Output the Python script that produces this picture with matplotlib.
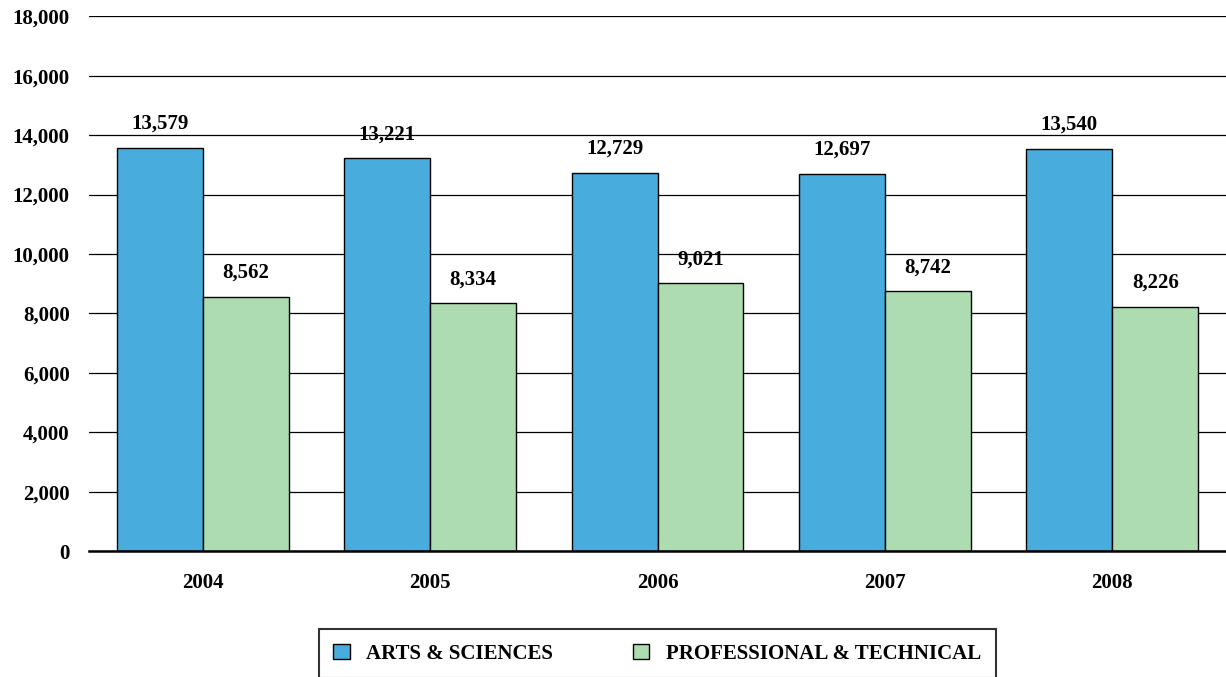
import numpy as np
import matplotlib.pyplot as plt

years = ['2004', '2005', '2006', '2007', '2008']
arts = [13579, 13221, 12729, 12697, 13540]
prof = [8562, 8334, 9021, 8742, 8226]

plt.rcParams['font.family'] = ['Liberation Serif', 'DejaVu Serif']
plt.rcParams['font.weight'] = 'bold'

fig = plt.figure(figsize=(12.26, 6.77), dpi=100)
ax = fig.add_axes([0.0726, 0.186, 0.9274, 0.790])

x = np.arange(len(years))
w = 0.378
b1 = ax.bar(x - w/2, arts, w, color='#48acdc', edgecolor='black', linewidth=1, label='ARTS & SCIENCES', zorder=3)
b2 = ax.bar(x + w/2, prof, w, color='#acdcb0', edgecolor='black', linewidth=1, label='PROFESSIONAL & TECHNICAL', zorder=3)

# value labels above bars
for bars in (b1, b2):
    for r in bars:
        ax.annotate(f'{int(r.get_height()):,}', (r.get_x() + r.get_width()/2, r.get_height()),
                    xytext=(0, 10), textcoords='offset points', ha='center', va='bottom',
                    fontsize=15, fontweight='bold')

ax.set_xlim(-0.5, len(years) - 0.5)
ax.set_ylim(0, 18000)
ax.set_yticks(range(0, 18001, 2000))
ax.set_yticklabels([f'{v:,}' for v in range(0, 18001, 2000)], fontsize=15, fontweight='bold')
ax.set_xticks(x)
ax.set_xticklabels(years, fontsize=15, fontweight='bold')
ax.tick_params(axis='y', length=0, pad=14)
ax.tick_params(axis='x', length=0, pad=16)
ax.grid(axis='y', color='black', linewidth=0.9, zorder=0)
for s in ['top', 'right', 'left']:
    ax.spines[s].set_visible(False)
ax.spines['bottom'].set_linewidth(1.8)
ax.spines['bottom'].set_zorder(4)

leg = fig.legend(loc='upper center', bbox_to_anchor=(0.536, 0.071), ncol=2,
                 frameon=True, fancybox=False, edgecolor='black', handlelength=0.8, handleheight=0.8,
                 handletextpad=0.8, columnspacing=3.8, borderpad=0.7, borderaxespad=0,
                 prop={'weight': 'bold', 'size': 15})
leg.get_frame().set_linewidth(1.5)

fig.savefig('out.png', dpi=100)
